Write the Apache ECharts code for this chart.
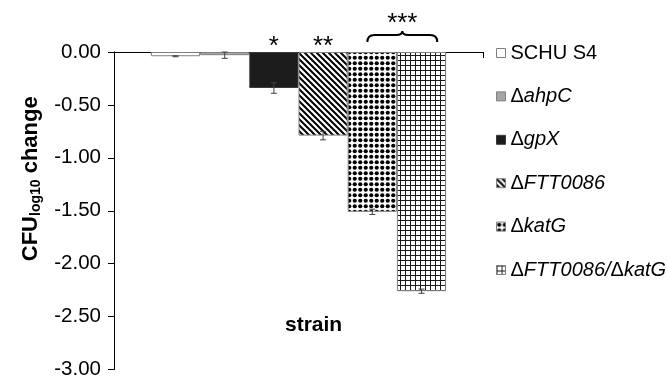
<!DOCTYPE html>
<html>
<head>
<meta charset="utf-8">
<script src="https://cdn.jsdelivr.net/npm/echarts@6/dist/echarts.min.js"></script>
<style>html,body{margin:0;padding:0;background:#fff}#c{width:668px;height:380px}</style>
</head>
<body>
<div id="c"></div>
<script>
// ---- data ----
const strains = ['SCHU S4', 'ΔahpC', 'ΔgpX', 'ΔFTT0086', 'ΔkatG', 'ΔFTT0086/ΔkatG'];
const cfuChange = [-0.04, -0.03, -0.34, -0.79, -1.51, -2.26];
const cfuError = [0.005, 0.03, 0.05, 0.04, 0.025, 0.02];
const sigLabels = ['', '', '*', '**', '', ''];
const braceBars = [4, 5];
const braceLabel = '***';
const yTicks = [0, -0.5, -1, -1.5, -2, -2.5, -3];
const xCategory = ['strain'];

// ---- patterns ----
function tile(w, h, draw) {
  const c = document.createElement('canvas');
  c.width = w; c.height = h;
  const g = c.getContext('2d');
  g.fillStyle = '#fff'; g.fillRect(0, 0, w, h);
  draw(g, w, h);
  return { image: c, repeat: 'repeat' };
}
const diagPattern = tile(6, 6, (g, w, h) => {
  g.strokeStyle = '#000'; g.lineWidth = 2;
  g.beginPath();
  g.moveTo(-3, -3); g.lineTo(w + 3, h + 3);
  g.moveTo(-3, h - 3); g.lineTo(3, h + 3);
  g.moveTo(w - 3, -3); g.lineTo(w + 3, 3);
  g.stroke();
});
const dotPattern = tile(11, 11, (g, w, h) => {
  g.fillStyle = '#000';
  [[2.75, 2.75], [8.25, 2.75], [2.75, 8.25], [8.25, 8.25]].forEach(p => {
    g.beginPath(); g.arc(p[0], p[1], 2.1, 0, Math.PI * 2); g.fill();
  });
});
const gridPattern = tile(5, 5, (g, w, h) => {
  g.fillStyle = '#1a1a1a';
  g.fillRect(0, 0, w, 1);
  g.fillRect(0, 0, 1, h);
});

const fills = ['#ffffff', '#a6a6a6', '#1c1c1c', diagPattern, dotPattern, gridPattern];
const borders = ['#7f7f7f', '#7f7f7f', '#3a3a3a', '#7f7f7f', '#7f7f7f', '#7f7f7f'];

const FONT = 'Liberation Sans, Arial, sans-serif';

const barSeries = strains.map((s, i) => ({
  name: s,
  type: 'bar',
  data: [cfuChange[i]],
  barGap: '0%',
  barCategoryGap: '20%',
  itemStyle: { color: fills[i], borderColor: borders[i], borderWidth: 1 },
  emphasis: { disabled: true },
  z: 2
}));

function barCenterX(api, idx) {
  const c = api.coord([0, 0]);
  const band = api.size([1, 0])[0];
  const bw = band * 0.8 / strains.length;
  return { x: c[0] - 0.4 * band + (idx + 0.5) * bw, bw: bw, zeroY: c[1] };
}

const errSeries = {
  type: 'custom',
  name: 'err',
  data: cfuChange.map((v, i) => [0, v, cfuError[i], i]),
  z: 5,
  silent: true,
  renderItem: function (params, api) {
    const idx = api.value(3), v = api.value(1), e = api.value(2);
    const b = barCenterX(api, idx);
    const y1 = api.coord([0, v + e])[1];
    const y2 = api.coord([0, v - e])[1];
    const cap = 3;
    const st = { stroke: '#404040', lineWidth: 1 };
    return {
      type: 'group',
      children: [
        { type: 'line', shape: { x1: b.x, y1: y1, x2: b.x, y2: y2 }, style: st },
        { type: 'line', shape: { x1: b.x - cap, y1: y1, x2: b.x + cap, y2: y1 }, style: st },
        { type: 'line', shape: { x1: b.x - cap, y1: y2, x2: b.x + cap, y2: y2 }, style: st }
      ]
    };
  }
};

const annotSeries = {
  type: 'custom',
  name: 'annot',
  data: [[0, 0]],
  z: 6,
  silent: true,
  clip: false,
  renderItem: function (params, api) {
    const children = [];
    sigLabels.forEach((t, i) => {
      if (!t) return;
      const b = barCenterX(api, i);
      children.push({
        type: 'text',
        style: { text: t, x: b.x, y: b.zeroY - 5, align: 'center', verticalAlign: 'middle',
          font: '26px ' + FONT, fill: '#000' }
      });
    });
    const a = barCenterX(api, braceBars[0]);
    const c = barCenterX(api, braceBars[1]);
    const xL = a.x - a.bw * 0.1;
    const xR = c.x + c.bw * 0.32;
    const xm = (xL + xR) / 2;
    const yB = a.zeroY - 10, yH = a.zeroY - 17, yP = a.zeroY - 21;
    const path = 'M' + xL + ',' + yB + ' Q' + xL + ',' + yH + ' ' + (xL + 7) + ',' + yH +
      ' L' + (xm - 6) + ',' + yH + ' Q' + xm + ',' + yH + ' ' + xm + ',' + yP +
      ' Q' + xm + ',' + yH + ' ' + (xm + 6) + ',' + yH +
      ' L' + (xR - 7) + ',' + yH + ' Q' + xR + ',' + yH + ' ' + xR + ',' + yB;
    children.push({ type: 'path', shape: { pathData: path },
      style: { stroke: '#000', lineWidth: 2, fill: null } });
    children.push({
      type: 'text',
      style: { text: braceLabel, x: xm, y: a.zeroY - 28, align: 'center', verticalAlign: 'middle',
        font: '26px ' + FONT, fill: '#000' }
    });
    return { type: 'group', children: children };
  }
};

function legendFmt(name) {
  if (name.indexOf('Δ') < 0) return '{n|' + name + '}';
  return name.split('Δ').map((p, k) => (k === 0 ? (p ? '{i|' + p + '}' : '') : '{d|Δ}' + '{i|' + p + '}')).join('');
}

const chart = echarts.init(document.getElementById('c'), null, { renderer: 'canvas' });
chart.setOption({
  animation: false,
  backgroundColor: '#fff',
  textStyle: { fontFamily: FONT },
  grid: { left: 114, right: 185, top: 52, bottom: 8, containLabel: false },
  title: {
    text: 'strain', left: 280, top: 310,
    textStyle: { fontFamily: FONT, fontWeight: 'bold', fontSize: 21, color: '#000' }
  },
  legend: {
    orient: 'vertical', left: 491, top: 37,
    itemWidth: 9, itemHeight: 9, itemGap: 21.4,
    selectedMode: false, icon: 'rect',
    data: strains,
    formatter: legendFmt,
    textStyle: {
      fontFamily: FONT, fontSize: 20, color: '#000', lineHeight: 22,
      rich: {
        n: { fontFamily: FONT, fontSize: 20, color: '#000', lineHeight: 22 },
        d: { fontFamily: FONT, fontSize: 20, color: '#000', lineHeight: 22 },
        i: { fontFamily: FONT, fontSize: 20, color: '#000', fontStyle: 'italic', lineHeight: 22 }
      }
    },
    itemStyle: { borderWidth: 1 }
  },
  xAxis: {
    type: 'category',
    data: xCategory,
    axisLine: { onZero: true, lineStyle: { color: '#000', width: 1 } },
    axisTick: { show: true, length: 6, lineStyle: { color: '#000' } },
    axisLabel: { show: false },
    splitLine: { show: false }
  },
  yAxis: {
    type: 'value',
    min: yTicks[yTicks.length - 1], max: yTicks[0], interval: 0.5,
    name: '{b|CFU}{s|log10}{b| change}',
    nameLocation: 'middle', nameRotate: 90, nameGap: 70,
    nameTextStyle: {
      padding: [0, 0, 0, 64],
      rich: {
        b: { fontFamily: FONT, fontSize: 22, fontWeight: 'bold', color: '#000', lineHeight: 25 },
        s: { fontFamily: FONT, fontSize: 14, fontWeight: 'bold', color: '#000', lineHeight: 14, verticalAlign: 'bottom' }
      }
    },
    axisLine: { show: true, lineStyle: { color: '#000', width: 1 } },
    axisTick: { show: true, length: 6, lineStyle: { color: '#000' } },
    axisLabel: { fontFamily: FONT, fontSize: 20.5, color: '#000', margin: 13,
      formatter: v => v.toFixed(2) },
    splitLine: { show: false }
  },
  series: barSeries.concat([errSeries, annotSeries])
});
</script>
</body>
</html>
